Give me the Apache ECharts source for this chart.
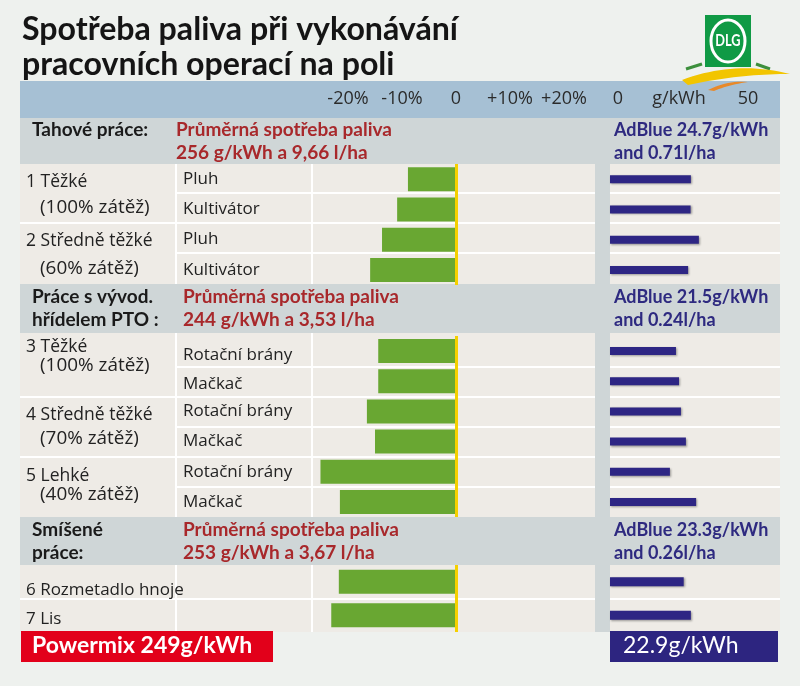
<!DOCTYPE html>
<html><head><meta charset="utf-8">
<script src="https://cdn.jsdelivr.net/npm/echarts@6/dist/echarts.min.js"></script>
<style>html,body{margin:0;padding:0;background:#eef1ee}#c{width:800px;height:686px}</style>
</head><body><div id="c"></div>
<script>
// ---------- data ----------
const titleLines = ['Spotřeba paliva při vykonávání', 'pracovních operací na poli'];
const pctTicks = [-20, -10, 0, 10, 20];
const adTickLabels = ['0', 'g/kWh', '50'];

const s1Cats = ['Pluh', 'Kultivátor', 'Pluh', 'Kultivátor'];
const s1Fuel = [-8.9, -10.9, -13.7, -15.9];
const s1AdBlue = [29.3, 29.2, 32.2, 28.3];

const s2Cats = ['Rotační brány', 'Mačkač', 'Rotační brány', 'Mačkač', 'Rotační brány', 'Mačkač'];
const s2Fuel = [-14.4, -14.4, -16.5, -15.0, -25.1, -21.5];
const s2AdBlue = [23.9, 25.0, 25.7, 27.5, 21.7, 31.2];

const s3Cats = ['6 Rozmetadlo hnoje', '7 Lis'];
const s3Fuel = [-21.7, -23.1];
const s3AdBlue = [26.7, 29.3];

const sectionNames = [['Tahové práce:'], ['Práce s vývod.', 'hřídelem PTO :'], ['Smíšené', 'práce:']];
const sectionFuel = [
  ['Průměrná spotřeba paliva', '256 g/kWh a 9,66 l/ha'],
  ['Průměrná spotřeba paliva', '244 g/kWh a 3,53 l/ha'],
  ['Průměrná spotřeba paliva', '253 g/kWh a 3,67 l/ha']
];
const sectionAdBlue = [
  ['AdBlue 24.7g/kWh', 'and 0.71l/ha'],
  ['AdBlue 21.5g/kWh', 'and 0.24l/ha'],
  ['AdBlue 23.3g/kWh', 'and 0.26l/ha']
];
const groupLabels1 = [['1 Těžké', '(100% zátěž)'], ['2 Středně těžké', '(60% zátěž)']];
const groupLabels2 = [['3 Těžké', '(100% zátěž)'], ['4 Středně těžké', '(70% zátěž)'], ['5 Lehké', '(40% zátěž)']];
const totals = ['Powermix 249g/kWh', '22.9g/kWh'];

// ---------- layout ----------
const GL = 294, GW = 324;   // fuel grid (-30..30)
const NL = 610, NW = 138;   // adblue grid (0..50)
const REG = "'Open Sans', sans-serif";
const BOLD = "Lato, sans-serif";
const secs = [
  {top: 164, h: 121, cats: s1Cats, fuel: s1Fuel, ad: s1AdBlue, margin: GL - 183, nb: 8, pad: [0, 0, 0, 0]},
  {top: 336, h: 181, cats: s2Cats, fuel: s2Fuel, ad: s2AdBlue, margin: GL - 183, nb: 8, pad: [8, 5, 0, 0, 0, 0]},
  {top: 565, h: 67, cats: s3Cats, fuel: s3Fuel, ad: s3AdBlue, margin: GL - 26, nb: 9, pad: [16, 8]}
];

const grid = [], xAxis = [], yAxis = [], series = [];
secs.forEach((s, i) => {
  grid.push({left: GL, top: s.top, width: GW, height: s.h});
  grid.push({left: NL, top: s.top, width: NW, height: s.h});
  const gi = i * 2, ni = i * 2 + 1;
  xAxis.push({
    gridIndex: gi, type: 'value', min: -30, max: 30, interval: 10, position: 'top',
    axisLine: {show: false}, axisTick: {show: false}, splitLine: {show: false},
    axisLabel: {
      show: i === 0, margin: 65, verticalAlign: 'middle', fontSize: 18, color: '#2b2b2b', fontFamily: REG,
      formatter: v => pctTicks.includes(v) ? (v > 0 ? '+' + v + '%' : (v === 0 ? '0' : v + '%')) : ''
    }
  });
  xAxis.push({
    gridIndex: ni, type: 'value', min: 0, max: 50, interval: 25, position: 'top',
    axisLine: {show: false}, axisTick: {show: false}, splitLine: {show: false},
    axisLabel: {
      show: i === 0, margin: 65, verticalAlign: 'middle', fontSize: 18, color: '#2b2b2b', fontFamily: REG,
      formatter: v => v === 0 ? '{z|' + adTickLabels[0] + '}' : (v === 25 ? adTickLabels[1] : adTickLabels[2]),
      rich: {z: {fontSize: 18, fontFamily: REG, color: '#2b2b2b', padding: [0, 0, 0, 16]}}
    }
  });
  const rich = {};
  s.pad.forEach((p, k) => { rich['r' + k] = {fontSize: 17, fontFamily: REG, color: '#222', padding: [p, 0, 0, 0]}; });
  yAxis.push({
    gridIndex: gi, type: 'category', inverse: true, data: s.cats,
    axisLine: {show: false}, axisTick: {show: false}, splitLine: {show: false},
    axisLabel: {
      show: true, align: 'left', margin: s.margin, fontSize: 17, color: '#222', fontFamily: REG,
      formatter: (v, k) => '{r' + k + '|' + v + '}', rich
    }
  });
  yAxis.push({gridIndex: ni, type: 'category', inverse: true, data: s.cats, show: false});
  series.push({
    type: 'bar', xAxisIndex: gi, yAxisIndex: gi, data: s.fuel, barWidth: 24,
    itemStyle: {color: '#69a732'}, silent: true,
    markLine: {
      silent: true, symbol: 'none', label: {show: false},
      lineStyle: {color: '#f5d000', width: 3, type: 'solid'},
      data: [{xAxis: 0}]
    }
  });
  series.push({
    type: 'bar', xAxisIndex: ni, yAxisIndex: ni, data: s.ad, barWidth: s.nb, silent: true,
    itemStyle: {color: '#2e2684', shadowColor: 'rgba(0,0,0,0.35)', shadowBlur: 2, shadowOffsetX: 1, shadowOffsetY: 1}
  });
});

// ---------- decoration ----------
const G = [];
const rect = (x, y, w, h, fill, z) => G.push({type: 'rect', silent: true, z: z === undefined ? -10 : z, shape: {x, y, width: w, height: h}, style: {fill}});
const text = (x, y, t, font, fill, extra) => G.push(Object.assign({type: 'text', silent: true, z: 10, x, y,
  style: {text: t, font, fill, textAlign: 'left', textVerticalAlign: 'middle'}}, extra || {}));

rect(20, 81, 760, 37, '#a6c0d4');
rect(20, 118, 760, 46, '#cfd6d7');
rect(20, 284, 760, 49, '#cfd6d7');
rect(20, 517, 760, 48, '#cfd6d7');
const areas = [[164, 120], [333, 184], [565, 67]];
areas.forEach(a => rect(20, a[0], 760, a[1], '#eeebe6'));
[193, 253, 367, 427, 487].forEach(y => rect(176, y - 1, 604, 2, '#ffffff', -9));
[223, 397, 457, 599].forEach(y => rect(20, y - 1, 760, 2, '#ffffff', -9));
areas.forEach(a => {
  rect(175, a[0], 2, a[1], '#ffffff', -9);
  rect(311, a[0], 2, a[1], '#ffffff', -9);
  rect(595, a[0], 15, a[1], '#cfd6d7', -8);
});

// title (condensed by horizontal scaling)
const TFONT = "bold 33px Lato, sans-serif";
const mctx = document.createElement('canvas').getContext('2d');
mctx.font = TFONT;
const tScale = 436 / mctx.measureText(titleLines[0]).width;
text(22, 29, titleLines[0], TFONT, '#151515', {scaleX: tScale});
text(22, 64, titleLines[1], TFONT, '#151515', {scaleX: tScale});

// section headers
const hy = [[130, 153], [297, 320], [530, 553]];
const fx = [176, 183, 183];
sectionNames.forEach((lines, i) => lines.forEach((t, j) => text(32, hy[i][j], t, 'bold 19px ' + BOLD, '#1a1a1a')));
sectionFuel.forEach((lines, i) => lines.forEach((t, j) => text(fx[i], hy[i][j], t, 'bold 19px ' + BOLD, '#a8282b')));
sectionAdBlue.forEach((lines, i) => lines.forEach((t, j) => text(614, hy[i][j], t, 'bold 18px ' + BOLD, '#2e2a80')));

// group labels
const g1y = [[182, 208], [241, 269]];
const g2y = [[347, 366], [415, 439], [476, 495]];
const GF = '17.5px ' + REG;
groupLabels1.forEach((l, i) => { text(26, g1y[i][0], l[0], GF, '#222'); text(40, g1y[i][1], l[1], GF, '#222', {scaleX: 1.08}); });
groupLabels2.forEach((l, i) => { text(26, g2y[i][0], l[0], GF, '#222'); text(40, g2y[i][1], l[1], GF, '#222', {scaleX: 1.08}); });

// totals boxes
rect(21, 631, 252, 31, '#e2001a', -5);
rect(610, 631, 168, 31, '#2d2580', -5);
text(32, 646, totals[0], 'bold 23px ' + BOLD, '#ffffff');
text(623, 646, totals[1], '23px ' + BOLD, '#ffffff');

// DLG logo (decorative swoosh as polygons sampled from quadratic curves)
function quad(p0, p1, p2, n) {
  const pts = [];
  for (let k = 0; k <= n; k++) {
    const t = k / n, u = 1 - t;
    pts.push([u * u * p0[0] + 2 * u * t * p1[0] + t * t * p2[0], u * u * p0[1] + 2 * u * t * p1[1] + t * t * p2[1]]);
  }
  return pts;
}
const swTop = quad([682, 80], [735, 60], [790, 74], 20);
const swBot = quad([790, 74], [738, 74], [688, 85], 20);
const orTop = quad([708, 90], [728, 80], [748, 82], 12);
const orBot = quad([748, 82], [728, 85], [714, 91], 12);
G.push({type: 'line', silent: true, z: 5, shape: {x1: 686, y1: 69, x2: 702, y2: 64}, style: {stroke: '#3c8f3c', lineWidth: 3}});
G.push({type: 'line', silent: true, z: 5, shape: {x1: 756, y1: 64, x2: 770, y2: 69}, style: {stroke: '#3c8f3c', lineWidth: 3}});
G.push({type: 'polygon', silent: true, z: 5, shape: {points: swTop.concat(swBot)}, style: {fill: '#f2c500'}});
G.push({type: 'polygon', silent: true, z: 6, shape: {points: orTop.concat(orBot)}, style: {fill: '#e8892a'}});
G.push({type: 'rect', silent: true, z: 6, shape: {x: 705, y: 15, width: 46, height: 52}, style: {fill: '#109a45'}});
G.push({type: 'ellipse', silent: true, z: 7, shape: {cx: 728, cy: 41, rx: 17, ry: 21}, style: {stroke: '#ffffff', lineWidth: 3, fill: null}});
G.push({type: 'text', silent: true, z: 8, x: 728, y: 41, scaleX: 0.75, style: {text: 'DLG', font: "bold 17px Lato, sans-serif", fill: '#ffffff', textAlign: 'center', textVerticalAlign: 'middle'}});

const chart = echarts.init(document.getElementById('c'));
chart.setOption({
  backgroundColor: '#eef1ee',
  animation: false,
  grid, xAxis, yAxis, series,
  graphic: {elements: G}
});
</script></body></html>
